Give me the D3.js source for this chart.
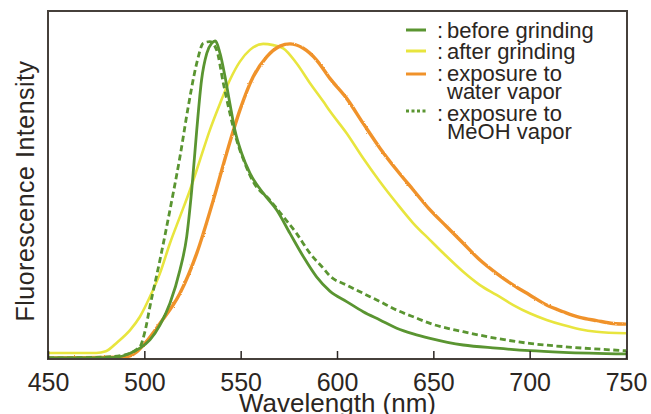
<!DOCTYPE html>
<html>
<head>
<meta charset="utf-8">
<script src="https://cdn.jsdelivr.net/npm/d3@7"></script>
<style>
  body { margin: 0; background: #fff; }
  svg { display: block; }
  text { font-family: "Liberation Sans", Arial, sans-serif; fill: #2b2622; }
</style>
</head>
<body>
<svg id="chart" width="651" height="414"></svg>
<script>
// wavelength (nm) and intensity (% of peak)
const beforeWl  = [450, 470, 485, 492.6, 497.7, 502.9, 508.1, 513.3, 518.5, 522, 524.6, 527.2, 529.7, 532.4, 535, 536.7, 539.3, 541.9, 544.4, 547, 550.5, 554.8, 561.7, 568.7, 575.6, 582.5, 589.4, 596.3, 605, 613.6, 622.3, 631, 639.6, 648.3, 665.5, 682.8, 700, 717.4, 750];
const beforeInt = [0, 0, 0.2, 1.5, 3.1, 5.7, 10.4, 17.3, 27.8, 38.3, 53.0, 71.9, 87.7, 96.1, 99.3, 100, 96.1, 88.7, 80.3, 71.9, 64.6, 58.3, 52.0, 46.7, 39.3, 32.0, 25.6, 21.1, 17.8, 14.6, 12.0, 9.4, 7.6, 6.2, 4.1, 3.1, 2.3, 1.8, 1.3];

const afterWl  = [450, 475, 480, 486, 492.6, 497.7, 502.9, 508.1, 513.3, 518.5, 523.7, 528.9, 534, 539.3, 544.4, 549.6, 554.8, 561.7, 566.9, 572.1, 579, 586, 592.9, 596.3, 605, 613.6, 622.3, 631, 639.6, 648.3, 657, 665.5, 674.2, 682.8, 691.5, 700, 708.8, 717.4, 726, 734.7, 750];
const afterInt = [1.6, 1.6, 2.1, 5.0, 8.8, 13.0, 19.3, 26.7, 36.2, 44.6, 53.0, 62.5, 71.9, 80.3, 87.7, 93.5, 97.2, 99.1, 98.7, 97.7, 93.0, 86.7, 80.9, 77.9, 70.9, 63.0, 55.6, 48.8, 42.5, 37.2, 32.0, 27.2, 23.0, 19.9, 16.7, 14.1, 12.0, 10.4, 9.1, 8.3, 7.8];

const waterWl  = [450, 490, 496, 500.3, 508.1, 518.5, 527.2, 535.8, 542.7, 549.6, 556.5, 563.5, 570.4, 575.6, 582.5, 589.4, 596.3, 605, 613.6, 622.3, 631, 639.6, 648.3, 657, 665.5, 674.2, 682.8, 691.5, 700, 708.8, 717.4, 726, 734.7, 743.3, 750];
const waterInt = [0, 0.3, 1.9, 4.6, 10.9, 20.4, 33.0, 49.8, 64.6, 78.2, 88.7, 95.0, 98.4, 99.1, 97.7, 94.0, 88.2, 81.9, 74.0, 66.2, 59.3, 53.0, 46.7, 41.4, 36.2, 30.9, 26.7, 23.0, 19.9, 16.7, 14.6, 12.8, 11.8, 10.9, 10.7];

const meohWl  = [450, 475, 489, 497.7, 500.3, 502.9, 508.1, 513.3, 518.5, 522.8, 527.2, 530.6, 534, 537.5, 541, 544.4, 547.9, 552.2, 556.5, 565.2, 572.1, 579, 586, 592.9, 596.3, 605, 613.6, 622.3, 631, 639.6, 648.3, 665.5, 682.8, 700, 717.4, 750];
const meohInt = [0, 0.2, 0.9, 3.6, 8.3, 16.2, 30.9, 46.7, 63.5, 79.3, 93.0, 99.3, 99.8, 97.2, 86.7, 77.2, 68.8, 61.4, 55.6, 49.8, 44.6, 39.3, 33.0, 28.3, 25.9, 23.0, 20.4, 17.8, 15.1, 13.0, 10.9, 8.3, 6.2, 4.6, 3.6, 2.3];

const xTicks = [450, 500, 550, 600, 650, 700, 750];

const series = [
  {name: "after",  wl: afterWl,  val: afterInt,  color: "#e8e53e", width: 2.6, dash: null,    rough: false, label: ["after grinding"]},
  {name: "water",  wl: waterWl,  val: waterInt,  color: "#f0922a", width: 3.4, dash: null,    rough: true,  label: ["exposure to", "water vapor"]},
  {name: "meoh",   wl: meohWl,   val: meohInt,   color: "#5a9531", width: 2.8, dash: "6,3.5", rough: false, label: ["exposure to", "MeOH vapor"]},
  {name: "before", wl: beforeWl, val: beforeInt, color: "#5a9531", width: 2.8, dash: null,    rough: false, label: ["before grinding"]}
];

const svg = d3.select("#chart");
const pL = 48, pR = 627, pT = 11, pB = 359;

const x = d3.scaleLinear().domain([450, 750]).range([pL, pR - 1]);
const y = d3.scaleLinear().domain([0, 100]).range([358, 41]);

const defs = svg.append("defs");
defs.append("clipPath").attr("id", "clip")
  .append("rect").attr("x", pL).attr("y", pT).attr("width", pR - pL).attr("height", pB - pT);

// slight jitter for the noisy orange spectrum
const rough = defs.append("filter").attr("id", "rough")
  .attr("x", "-5%").attr("y", "-5%").attr("width", "110%").attr("height", "110%");
rough.append("feTurbulence").attr("type", "fractalNoise")
  .attr("baseFrequency", 0.9).attr("numOctaves", 1).attr("seed", 3).attr("result", "n");
rough.append("feDisplacementMap").attr("in", "SourceGraphic").attr("in2", "n")
  .attr("scale", 2.2).attr("xChannelSelector", "R").attr("yChannelSelector", "G");

const line = d3.line()
  .x(d => x(d[0]))
  .y(d => y(d[1]))
  .curve(d3.curveMonotoneX);

const plot = svg.append("g").attr("clip-path", "url(#clip)");
series.forEach(s => {
  plot.append("path")
    .datum(s.wl.map((w, i) => [w, s.val[i]]))
    .attr("d", line)
    .attr("fill", "none")
    .attr("stroke", s.color)
    .attr("stroke-width", s.width)
    .attr("stroke-dasharray", s.dash)
    .attr("stroke-linejoin", "round")
    .attr("filter", s.rough ? "url(#rough)" : null);
});

// frame
svg.append("rect")
  .attr("x", pL).attr("y", pT)
  .attr("width", pR - pL).attr("height", pB - pT)
  .attr("fill", "none").attr("stroke", "#46403b").attr("stroke-width", 2);

// x axis, ticks inside
const xAxis = d3.axisBottom(x).tickValues(xTicks).tickSizeInner(-8).tickSizeOuter(0).tickPadding(14);
const gx = svg.append("g").attr("transform", `translate(0,${pB})`).call(xAxis);
gx.select(".domain").remove();
gx.selectAll(".tick line").attr("stroke", "#2b2622").attr("stroke-width", 1.5);
gx.selectAll(".tick text")
  .attr("font-size", 25).attr("font-family", "Liberation Sans, Arial, sans-serif")
  .attr("fill", "#2b2622");

svg.append("text")
  .attr("x", (pL + pR) / 2).attr("y", 412)
  .attr("text-anchor", "middle").attr("font-size", 26)
  .text("Wavelength (nm)");

svg.append("text")
  .attr("transform", "translate(34,191) rotate(-90)")
  .attr("text-anchor", "middle").attr("font-size", 25)
  .attr("letter-spacing", 0.5)
  .text("Fluorescence Intensity");

// legend
const legendItems = [
  {s: series[3], base: 38, ly: 30},
  {s: series[0], base: 59, ly: 51},
  {s: series[1], base: 81, ly: 74},
  {s: series[2], base: 121, ly: 111}
];
const lg = svg.append("g");
legendItems.forEach(it => {
  lg.append("line")
    .attr("x1", 406).attr("x2", 426)
    .attr("y1", it.ly).attr("y2", it.ly)
    .attr("stroke", it.s.color).attr("stroke-width", 3)
    .attr("stroke-dasharray", it.s.dash ? "3,2.5" : null);
  lg.append("text").attr("x", 437).attr("y", it.base).attr("font-size", 22).text(":");
  it.s.label.forEach((t, i) => {
    lg.append("text").attr("x", 447).attr("y", it.base + i * 18)
      .attr("font-size", 22).text(t);
  });
});
</script>
</body>
</html>
